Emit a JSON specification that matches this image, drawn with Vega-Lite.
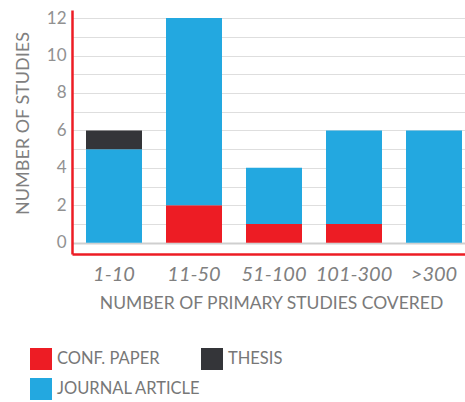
{
  "$schema": "https://vega.github.io/schema/vega-lite/v6.json",
  "autosize": "none",
  "padding": {"left": 72, "top": 10, "right": 0, "bottom": 148},
  "width": 404,
  "height": 244,
  "background": "white",
  "config": {
    "font": "Lato",
    "view": {"stroke": null},
    "axis": {"labelFont": "Lato", "titleFont": "Lato", "titleFontWeight": "normal"}
  },
  "data": {
    "values": [
      {"range": "1-10", "type": "JOURNAL ARTICLE", "count": 5},
      {"range": "1-10", "type": "THESIS", "count": 1},
      {"range": "11-50", "type": "CONF. PAPER", "count": 2},
      {"range": "11-50", "type": "JOURNAL ARTICLE", "count": 10},
      {"range": "51-100", "type": "CONF. PAPER", "count": 1},
      {"range": "51-100", "type": "JOURNAL ARTICLE", "count": 3},
      {"range": "101-300", "type": "CONF. PAPER", "count": 1},
      {"range": "101-300", "type": "JOURNAL ARTICLE", "count": 5},
      {"range": ">300", "type": "JOURNAL ARTICLE", "count": 6}
    ]
  },
  "mark": {"type": "bar"},
  "encoding": {
    "x": {
      "field": "range",
      "type": "nominal",
      "sort": ["1-10", "11-50", "51-100", "101-300", ">300"],
      "scale": {"paddingInner": 0.3, "paddingOuter": 0.175},
      "axis": {
        "title": "NUMBER OF PRIMARY STUDIES COVERED",
        "labelAngle": 0,
        "labelFontStyle": "italic",
        "labelFontSize": 20,
        "labelColor": "#808080",
        "labelPadding": 10,
        "ticks": false,
        "domainColor": "#ED1C24",
        "domainWidth": 2.5,
        "titleFontSize": 17.5,
        "titleColor": "#7a7a7a",
        "titlePadding": 10,
        "titleX": 199,
        "titleAnchor": "middle"
      }
    },
    "y": {
      "field": "count",
      "type": "quantitative",
      "stack": "zero",
      "scale": {"domain": [-0.6, 12.43], "nice": false, "zero": false},
      "axis": {
        "title": "NUMBER OF STUDIES",
        "values": [0, 1, 2, 3, 4, 5, 6, 7, 8, 9, 10, 11, 12],
        "labelExpr": "datum.value % 2 === 0 ? datum.label : ''",
        "labelFontSize": 17,
        "labelColor": "#919191",
        "labelPadding": 6,
        "ticks": false,
        "grid": true,
        "gridColor": {"condition": {"test": "datum.value === 0", "value": "#cfcfcf"}, "value": "#dedede"},
        "gridWidth": {"condition": {"test": "datum.value === 0", "value": 2}, "value": 1},
        "domainColor": "#ED1C24",
        "domainWidth": 2.5,
        "titleFontSize": 18,
        "titleColor": "#808080",
        "titlePadding": 14,
        "titleY": 113
      }
    },
    "color": {
      "field": "type",
      "type": "nominal",
      "scale": {
        "domain": ["CONF. PAPER", "THESIS", "JOURNAL ARTICLE"],
        "range": ["#ED1C24", "#343539", "#23A8E0"]
      },
      "legend": {
        "title": null,
        "orient": "none",
        "legendX": -42,
        "legendY": 338,
        "direction": "horizontal",
        "columns": 2,
        "symbolType": "square",
        "symbolSize": 484,
        "symbolStrokeWidth": 0,
        "symbolOpacity": 1,
        "labelFontSize": 16.5,
        "labelColor": "#777777",
        "labelOffset": 5,
        "columnPadding": 0,
        "rowPadding": 8,
        "padding": 0
      }
    },
    "order": {"field": "type", "sort": "ascending"}
  }
}
